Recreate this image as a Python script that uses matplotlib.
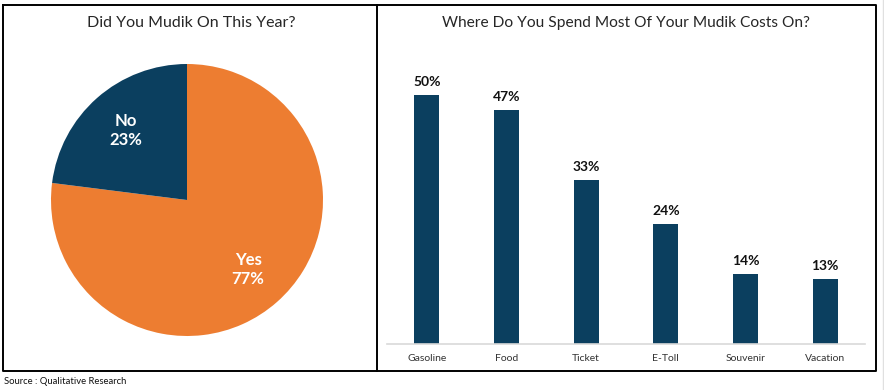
import matplotlib.pyplot as plt
from matplotlib.lines import Line2D

# pie data
pie_labels = ['Yes', 'No']
pie_values = [77, 23]

# bar data
categories = ['Gasoline', 'Food', 'Ticket', 'E-Toll', 'Souvenir', 'Vacation']
cost_share = [50, 47, 33, 24, 14, 13]

NAVY = '#0B3F5F'
ORANGE = '#ED7D31'

plt.rcParams['font.family'] = ['Lato', 'DejaVu Sans']

W, H = 884, 390
fig = plt.figure(figsize=(W / 100, H / 100), dpi=100)


def px_rect(x0, y0, x1, y1):
    # pixel box (top-left origin) -> figure fraction [l, b, w, h]
    return [x0 / W, 1 - y1 / H, (x1 - x0) / W, (y1 - y0) / H]


def fig_line(xs, ys, **kw):
    fig.add_artist(Line2D([x / W for x in xs], [1 - y / H for y in ys],
                          transform=fig.transFigure, **kw))


# panel borders
box = dict(color='black', lw=1.4, solid_capstyle='projecting')
fig_line([3, 876, 876, 3, 3], [5, 5, 371, 371, 5], **box)
fig_line([377, 377], [5, 371], **box)
fig_line([883, 883], [0, 390], color='#E0E0E0', lw=1)

# titles
fig.text(191 / W, 1 - 23 / H, 'Did You Mudik On This Year?', ha='center', va='center',
         fontsize=11.5, color='#262626')
fig.text(626 / W, 1 - 23 / H, 'Where Do You Spend Most Of Your Mudik Costs On?',
         ha='center', va='center', fontsize=11.2, color='#262626')

# pie
ax1 = fig.add_axes(px_rect(51, 64, 323, 336))
wedges, _, autotexts = ax1.pie(pie_values, colors=[ORANGE, NAVY], startangle=90,
                               counterclock=False, autopct='%d', pctdistance=0.68,
                               radius=1, wedgeprops=dict(linewidth=0))
ax1.set_xlim(-1, 1)
ax1.set_ylim(-1, 1)
ax1.set_aspect('equal')
ax1.axis('off')
for t, lab, val in zip(autotexts, pie_labels, pie_values):
    t.set_text(f'{lab}\n{val}%')
    t.set_color('white')
    t.set_fontweight('bold')
    t.set_fontsize(12)
    t.set_linespacing(1.25)

# bars
ax2 = fig.add_axes(px_rect(387, 70, 865, 344))
x = range(len(categories))
bars = ax2.bar(x, cost_share, width=0.31, color=NAVY)
ax2.set_xlim(-0.5, len(categories) - 0.5)
ax2.set_ylim(0, 55)
for b, v in zip(bars, cost_share):
    ax2.annotate(f'{v}%', (b.get_x() + b.get_width() / 2, v), xytext=(0, 5),
                 textcoords='offset points', ha='center', va='bottom',
                 fontsize=10, fontweight='bold', color='#111111')
ax2.set_xticks(list(x))
ax2.set_xticklabels(categories, fontsize=7.5, color='#333333')
ax2.tick_params(axis='x', length=0, pad=7)
ax2.set_yticks([])
for s in ['left', 'right', 'top']:
    ax2.spines[s].set_visible(False)
ax2.spines['bottom'].set_color('#D9D9D9')
ax2.spines['bottom'].set_linewidth(1.2)

fig.text(4 / W, 1 - 381 / H, 'Source : Qualitative Research', ha='left', va='center',
         fontsize=6.8, color='#111111')

fig.savefig('out.png', dpi=100)
